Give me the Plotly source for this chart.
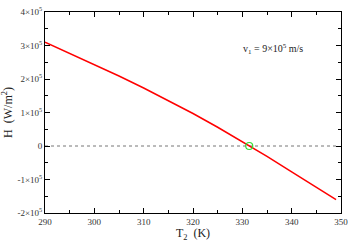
import plotly.graph_objects as go

T2 = [290, 295, 300, 305, 310, 315, 320, 325, 330, 335, 340, 345, 349]
H = [3.10e5, 2.77e5, 2.43e5, 2.09e5, 1.73e5, 1.36e5, 0.97e5, 0.56e5, 0.13e5,
     -0.31e5, -0.77e5, -1.23e5, -1.60e5]
zero_T = [290, 349]
zero_H = [0, 0]
root_T = [331.4]
root_H = [0]

x_ticks = [290, 300, 310, 320, 330, 340, 350]
y_ticks = [-2e5, -1e5, 0, 1e5, 2e5, 3e5, 4e5]
y_ticktext = ["-2×10<sup>5</sup>", "-1×10<sup>5</sup>", "0", "1×10<sup>5</sup>",
              "2×10<sup>5</sup>", "3×10<sup>5</sup>", "4×10<sup>5</sup>"]

font_family = "Liberation Serif, Times New Roman, serif"

fig = go.Figure()
fig.add_trace(go.Scatter(x=zero_T, y=zero_H, mode="lines",
                         line=dict(color="#777777", width=1, dash="dot"),
                         showlegend=False, hoverinfo="skip"))
fig.add_trace(go.Scatter(x=T2, y=H, mode="lines", line=dict(color="#ff0000", width=1.5),
                         showlegend=False))
fig.add_trace(go.Scatter(x=root_T, y=root_H, mode="markers",
                         marker=dict(symbol="circle-open", size=7, color="#33dd33",
                                     line=dict(width=1.2)),
                         showlegend=False))

axis_common = dict(showgrid=False, zeroline=False, showline=True, linecolor="black",
                   linewidth=1, mirror="allticks", ticks="inside", ticklen=5,
                   tickwidth=1, tickcolor="black", ticklabeloverflow="allow",
                   tickfont=dict(family=font_family, size=9, color="#333333"))

fig.update_xaxes(range=[290, 350], tickvals=x_ticks,
                 minor=dict(dtick=5, ticks="inside", ticklen=3, tickcolor="black"),
                 title=dict(text="T<sub>2</sub>  (K)", standoff=2,
                            font=dict(family=font_family, size=12, color="#222222")),
                 **axis_common)
fig.update_yaxes(range=[-2e5, 4e5], tickvals=y_ticks, ticktext=y_ticktext,
                 minor=dict(dtick=0.5e5, ticks="inside", ticklen=3, tickcolor="black"),
                 title=dict(text="H  (W/m<sup>2</sup>)", standoff=4,
                            font=dict(family=font_family, size=12, color="#222222")),
                 **axis_common)

fig.add_annotation(x=0.88, y=0.86, xref="paper", yref="paper",
                   text="v<sub>1</sub> = 9×10<sup>5</sup> m/s", showarrow=False,
                   font=dict(family=font_family, size=10, color="#222222"))

fig.update_layout(width=353, height=242, margin=dict(l=44, r=8, t=5, b=25),
                  plot_bgcolor="white", paper_bgcolor="white")

fig.write_html("out.html", config={"displayModeBar": False},
               post_script="document.body.style.margin='0';document.body.style.overflow='hidden';")
